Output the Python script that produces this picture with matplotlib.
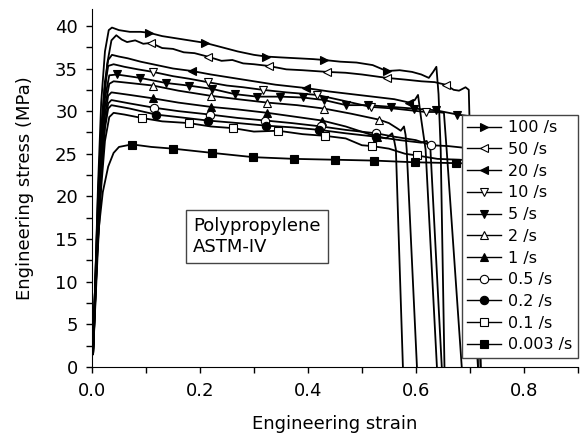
import matplotlib
matplotlib.use("Agg")
import matplotlib.pyplot as plt

plt.rcParams["font.family"] = ["DejaVu Sans"]
plt.rcParams["font.size"] = 13

# strain-rate labels, in legend order
labels = ["100 /s", "50 /s", "20 /s", "10 /s", "5 /s", "2 /s", "1 /s",
          "0.5 /s", "0.2 /s", "0.1 /s", "0.003 /s"]

# curves: strain / stress
s100 = [0.002, 0.006, 0.011, 0.017, 0.024, 0.031, 0.037, 0.05, 0.07, 0.09, 0.105, 0.13, 0.16, 0.19,
        0.21, 0.24, 0.27, 0.3, 0.323, 0.35, 0.38, 0.41, 0.43, 0.46, 0.49, 0.52, 0.546, 0.57, 0.593,
        0.61, 0.624, 0.632, 0.638, 0.642, 0.646, 0.653]
t100 = [2, 10, 21, 31, 37, 39.5, 39.8, 39.5, 39.3, 39.3, 39.2, 38.8, 38.5, 38.2, 38.0, 37.5, 37.0,
        36.6, 36.4, 36.3, 36.2, 36.1, 36.0, 35.8, 35.7, 35.4, 34.7, 34.8, 34.6, 34.3, 33.9, 34.6,
        35.2, 32, 25.5, 0]

s50 = [0.002, 0.007, 0.013, 0.02, 0.028, 0.036, 0.045, 0.055, 0.065, 0.08, 0.095, 0.109, 0.13, 0.15,
       0.17, 0.19, 0.214, 0.24, 0.26, 0.28, 0.3, 0.327, 0.36, 0.39, 0.436, 0.47, 0.5, 0.546, 0.58,
       0.61, 0.635, 0.655, 0.67, 0.68, 0.692, 0.698, 0.703, 0.715]
t50 = [1.5, 9, 20, 29, 35.5, 38.3, 38.9, 38.4, 38.1, 38.3, 37.9, 38.0, 37.4, 37.3, 36.9, 36.8, 36.4,
       35.9, 36.0, 35.6, 35.5, 35.3, 34.9, 34.8, 34.6, 34.5, 34.3, 33.9, 33.7, 33.5, 33.4, 33.1,
       32.5, 32.4, 32.8, 32.5, 20, 0]

s20 = [0.002, 0.006, 0.011, 0.017, 0.024, 0.03, 0.037, 0.05, 0.066, 0.09, 0.12, 0.15, 0.186, 0.22,
       0.26, 0.3, 0.34, 0.397, 0.44, 0.48, 0.52, 0.56, 0.588, 0.598, 0.604, 0.61, 0.618, 0.639]
t20 = [2, 10, 20, 28, 33.5, 36, 36.6, 36.4, 36.2, 35.8, 35.4, 35.0, 34.7, 34.3, 33.9, 33.5, 33.1,
       32.7, 32.3, 32.0, 31.7, 31.4, 31.0, 31.3, 31.9, 29, 25.5, 0]

s10 = [0.002, 0.006, 0.011, 0.017, 0.023, 0.03, 0.04, 0.06, 0.085, 0.113, 0.15, 0.18, 0.214, 0.25,
       0.28, 0.316, 0.36, 0.417, 0.46, 0.516, 0.56, 0.618, 0.64, 0.652, 0.657, 0.685]
t10 = [2, 10, 19, 27, 32.5, 35.3, 35.5, 35.2, 34.9, 34.6, 34.1, 33.8, 33.4, 33.0, 32.8, 32.5, 32.2,
       31.9, 31.3, 30.5, 30.3, 29.9, 29.9, 29.8, 25.5, 0]

s5 = [0.002, 0.006, 0.011, 0.017, 0.024, 0.032, 0.046, 0.089, 0.137, 0.179, 0.223, 0.264, 0.306,
      0.349, 0.39, 0.43, 0.471, 0.512, 0.554, 0.596, 0.637, 0.677, 0.70, 0.705, 0.715]
t5 = [1.5, 9, 18, 26, 31.5, 34.2, 34.3, 33.9, 33.3, 33.0, 32.6, 32.0, 31.7, 31.7, 31.6, 31.3, 30.7,
      30.7, 30.5, 30.3, 30.1, 29.6, 29.4, 20, 0]

s2 = [0.002, 0.006, 0.011, 0.017, 0.024, 0.032, 0.04, 0.07, 0.113, 0.16, 0.22, 0.27, 0.325, 0.38,
      0.43, 0.48, 0.532, 0.55, 0.565, 0.572, 0.578, 0.581, 0.583, 0.602]
t2 = [2, 9, 17, 25, 30.5, 33.2, 33.5, 33.3, 33.0, 32.4, 31.8, 31.4, 31.0, 30.7, 30.3, 29.7, 29.0,
      28.6, 28.0, 27.7, 28.2, 27.2, 25.5, 0]

s1 = [0.002, 0.006, 0.011, 0.017, 0.024, 0.03, 0.036, 0.07, 0.113, 0.16, 0.22, 0.27, 0.325, 0.37,
      0.426, 0.47, 0.528, 0.545, 0.556, 0.56, 0.563, 0.576]
t1 = [1.5, 8, 16, 24, 29.5, 31.8, 32.2, 31.9, 31.5, 31.0, 30.5, 30.2, 29.8, 29.4, 28.9, 28.2, 27.0,
      26.8, 27.4, 26.5, 25.5, 0]

s05 = [0.002, 0.006, 0.011, 0.017, 0.024, 0.03, 0.036, 0.07, 0.115, 0.16, 0.218, 0.27, 0.321, 0.37,
       0.425, 0.47, 0.526, 0.56, 0.6, 0.628, 0.66, 0.69, 0.71, 0.715, 0.72]
t05 = [1.5, 8, 15, 23, 28.5, 30.9, 31.3, 30.9, 30.4, 30.0, 29.6, 29.2, 28.9, 28.6, 28.2, 27.8, 27.4,
       27.0, 26.6, 26.0, 25.9, 25.7, 25.5, 15, 0]

s02 = [0.002, 0.006, 0.011, 0.017, 0.024, 0.03, 0.036, 0.07, 0.118, 0.16, 0.214, 0.27, 0.322, 0.37,
       0.421, 0.47, 0.526, 0.57, 0.61, 0.62, 0.627, 0.648]
t02 = [1.5, 8, 15, 22.5, 28, 30.3, 30.7, 30.3, 29.6, 29.3, 28.9, 28.6, 28.3, 28.1, 27.8, 27.4, 27.0,
       26.6, 26.3, 26.5, 25.5, 0]

s01 = [0.002, 0.006, 0.011, 0.017, 0.024, 0.032, 0.04, 0.06, 0.092, 0.13, 0.179, 0.22, 0.262, 0.30,
       0.345, 0.39, 0.432, 0.47, 0.50, 0.519, 0.55, 0.58, 0.602, 0.64, 0.68, 0.71, 0.715, 0.72]
t01 = [1.5, 7, 14, 21, 26.5, 29.3, 29.8, 29.6, 29.2, 28.8, 28.6, 28.2, 28.0, 27.6, 27.7, 27.3, 27.1,
       26.8, 26.0, 25.9, 25.6, 25.0, 24.8, 24.4, 24.3, 24.2, 12, 0]

s0003 = [0.001, 0.004, 0.008, 0.013, 0.02, 0.03, 0.04, 0.05, 0.074, 0.11, 0.15, 0.223, 0.299, 0.375,
         0.45, 0.522, 0.598, 0.674, 0.75, 0.826, 0.90]
t0003 = [2, 7, 12, 16.5, 20.5, 23.5, 25.1, 25.8, 26.1, 25.8, 25.6, 25.1, 24.6, 24.4, 24.3, 24.2, 24.0,
         23.9, 23.8, 23.7, 23.6]

# symbol positions on each curve
m100 = ([0.105, 0.21, 0.323, 0.43, 0.546], [39.2, 38.0, 36.4, 36.0, 34.7])
m50 = ([0.109, 0.214, 0.327, 0.436, 0.546, 0.655], [38.0, 36.4, 35.3, 34.6, 33.9, 33.1])
m20 = ([0.186, 0.397, 0.588], [34.7, 32.7, 31.0])
m10 = ([0.113, 0.214, 0.316, 0.417, 0.516, 0.618], [34.6, 33.4, 32.5, 31.9, 30.5, 29.9])
m5 = ([0.046, 0.089, 0.137, 0.179, 0.223, 0.264, 0.306, 0.349, 0.39, 0.43, 0.471, 0.512, 0.554,
       0.596, 0.637, 0.677],
      [34.3, 33.9, 33.3, 33.0, 32.6, 32.0, 31.7, 31.7, 31.6, 31.3, 30.7, 30.7, 30.5, 30.3, 30.1, 29.6])
m2 = ([0.113, 0.22, 0.325, 0.43, 0.532], [33.0, 31.8, 31.0, 30.3, 29.0])
m1 = ([0.113, 0.22, 0.325, 0.426, 0.528], [31.5, 30.5, 29.8, 28.9, 27.0])
m05 = ([0.115, 0.218, 0.321, 0.425, 0.526, 0.628], [30.4, 29.6, 28.9, 28.2, 27.4, 26.0])
m02 = ([0.118, 0.214, 0.322, 0.421, 0.526], [29.6, 28.9, 28.3, 27.8, 27.0])
m01 = ([0.092, 0.179, 0.262, 0.345, 0.432, 0.519, 0.602], [29.2, 28.6, 28.0, 27.7, 27.1, 25.9, 24.8])
m0003 = ([0.074, 0.15, 0.223, 0.299, 0.375, 0.45, 0.522, 0.598, 0.674, 0.75, 0.826, 0.897],
         [26.0, 25.6, 25.1, 24.6, 24.4, 24.3, 24.2, 24.0, 23.9, 23.8, 23.7, 23.6])

curves = [(s100, t100, m100), (s50, t50, m50), (s20, t20, m20), (s10, t10, m10), (s5, t5, m5),
          (s2, t2, m2), (s1, t1, m1), (s05, t05, m05), (s02, t02, m02), (s01, t01, m01),
          (s0003, t0003, m0003)]
markers = [">", "<", "<", "v", "v", "^", "^", "o", "o", "s", "s"]
filled = [True, False, True, False, True, False, True, False, True, False, True]

fig = plt.figure(figsize=(5.86, 4.41), dpi=100)
ax = fig.add_axes([0.157, 0.168, 0.829, 0.812])

handles = []
for (sx, sy, (mx, my)), mk, fl, lab in zip(curves, markers, filled, labels):
    fc = "black" if fl else "white"
    ax.plot(sx, sy, color="black", lw=1.3, zorder=2)
    ax.plot(mx, my, ls="none", marker=mk, ms=6, mfc=fc, mec="black", mew=0.8, zorder=3)
    h, = ax.plot([], [], color="black", lw=1.0, marker=mk, ms=6, mfc=fc, mec="black", mew=0.8)
    handles.append(h)

ax.set_xlim(0, 0.9)
ax.set_ylim(0, 42)
ax.set_xticks([0.0, 0.2, 0.4, 0.6, 0.8])
ax.set_xticks([0.1, 0.3, 0.5, 0.7, 0.9], minor=True)
ax.set_yticks(range(0, 41, 5))
ax.set_yticks([2.5 + 5 * i for i in range(8)], minor=True)
ax.spines["top"].set_visible(False)
ax.spines["right"].set_visible(False)
ax.tick_params(which="both", direction="out", length=4, width=1)
ax.tick_params(axis="x", pad=7)
ax.tick_params(axis="y", pad=6)
ax.set_xlabel("Engineering strain", labelpad=11)
ax.set_ylabel("Engineering stress (MPa)", labelpad=15)

leg = ax.legend(handles, labels, loc="lower right", bbox_to_anchor=(1.0, 0.025),
                borderaxespad=0, fancybox=False, edgecolor="#444444", framealpha=1,
                fontsize=11.5, handlelength=2.1, handletextpad=0.45, labelspacing=0.42,
                borderpad=0.35, numpoints=1)
leg.get_frame().set_linewidth(1.0)
leg.set_zorder(5)

ax.text(0.208, 0.364, "Polypropylene\nASTM-IV", transform=ax.transAxes, va="center", ha="left",
        bbox=dict(boxstyle="square,pad=0.4", fc="white", ec="#444444", lw=1.0), zorder=4)

fig.savefig("out.png", dpi=100)
